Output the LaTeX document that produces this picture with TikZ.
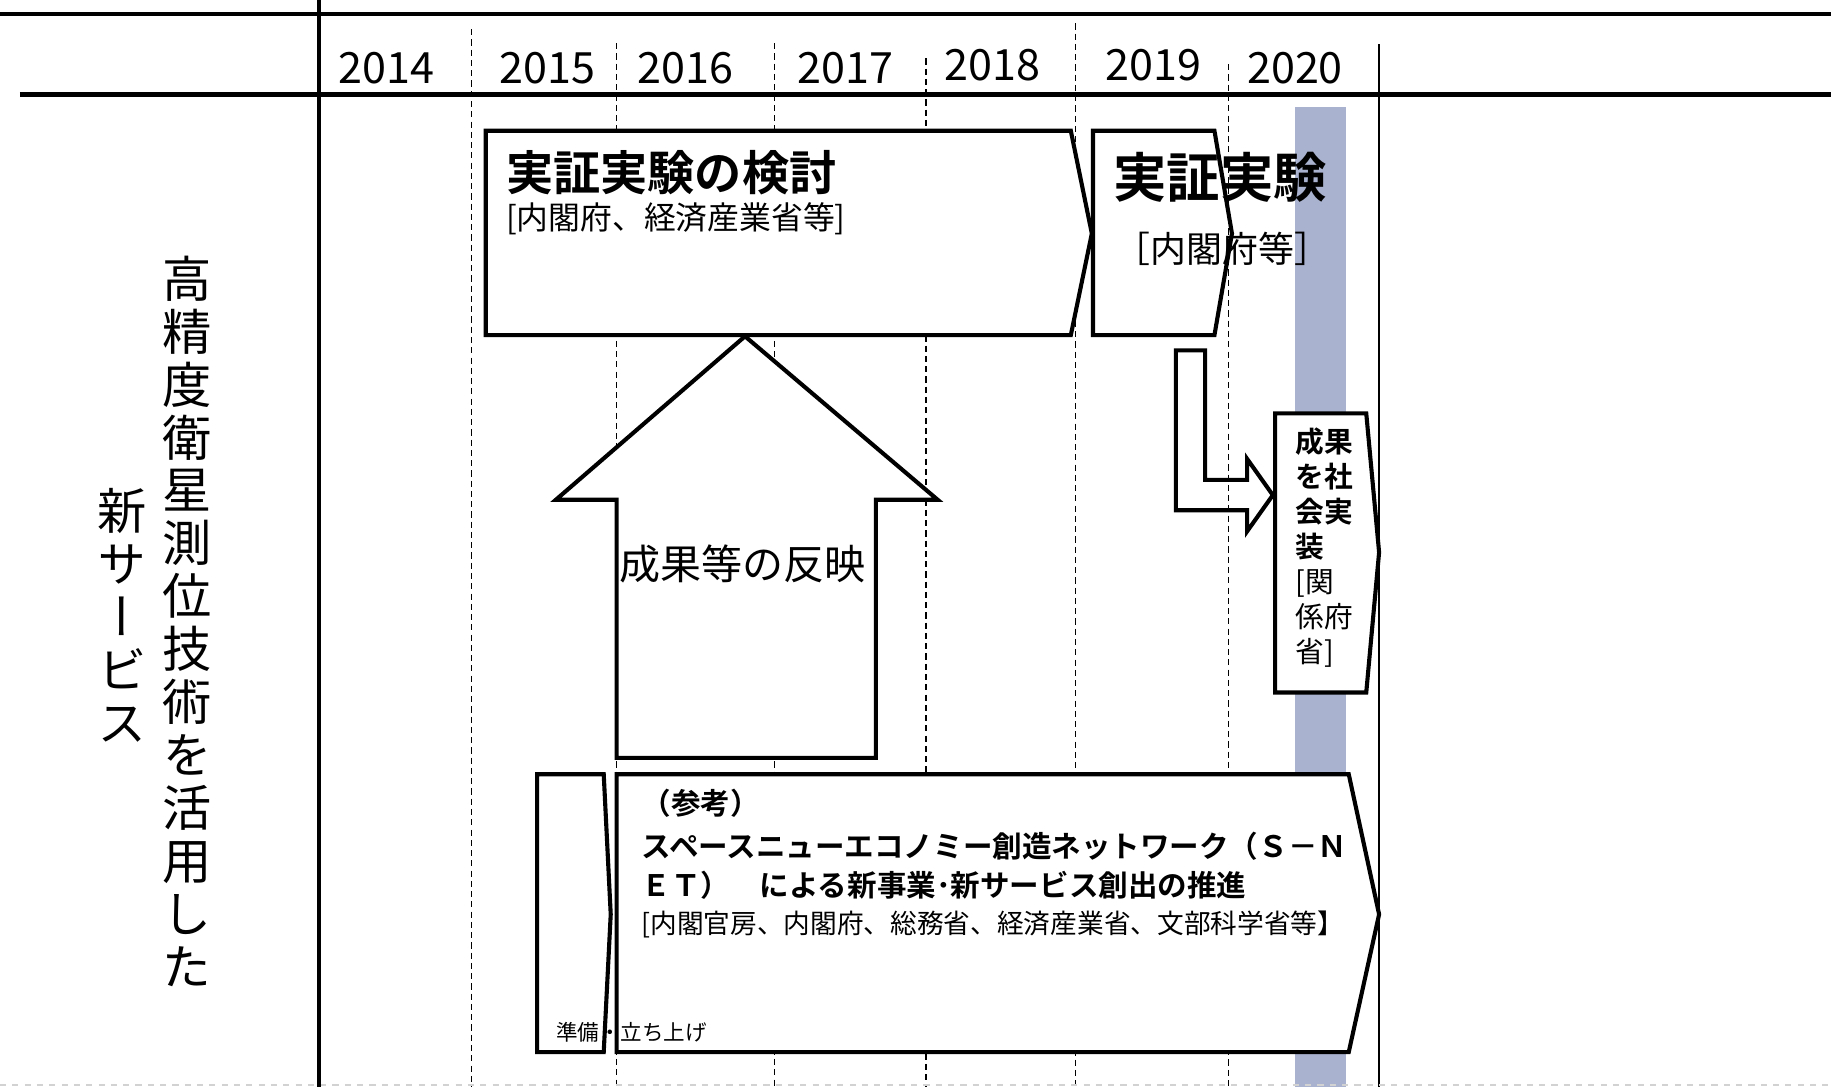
\documentclass[tikz,border=0pt]{standalone}
\usepackage{fontspec}
\setmainfont{Noto Sans CJK JP}[BoldFont={* Bold}]
\newfontfamily\tatefont{Noto Sans CJK JP}[RawFeature=+vert]
\usetikzlibrary{positioning,calc}
\definecolor{bandblue}{HTML}{A9B2CE}

\begin{document}
\begin{tikzpicture}[x=0.2mm, y=-0.2mm,
  hrule/.style={line width=2.4pt},
  yearline/.style={dash pattern=on 3pt off 2pt, line width=0.6pt},
  pbox/.style={line width=2pt, line join=miter, fill=white},
  hollow/.style={line width=2pt, line join=miter},
  yr/.style={font=\fontsize{21}{24}\selectfont, inner sep=0pt},
  ttl/.style={font=\bfseries\fontsize{23}{26}\selectfont, inner sep=0pt, anchor=west},
  sub/.style={font=\fontsize{15.5}{19}\selectfont, inner sep=0pt, anchor=west},
  note/.style={font=\bfseries\fontsize{14.4}{17}\selectfont, inner sep=0pt, anchor=west},
  tate/.style={font=\tatefont\fontsize{24}{25.8}\selectfont, align=center, inner sep=0pt}
]
\useasboundingbox (0,0) rectangle (1568,931);

% band for 2020
\fill[bandblue] (1109,92) rectangle (1153,931);

% year grid
\foreach \x/\top in {404/25, 528/37, 663/37, 793/50, 921/20, 1052/55}
  \draw[yearline] (\x,\top) -- (\x,931);
\draw[line width=0.8pt] (1181,38) -- (1181,931);
\draw[gray!35, dashed, line width=1pt] (0,929) -- (1568,929);

% header
\draw[hrule] (0,12) -- (1568,12);
\draw[hrule] (17,81) -- (1568,81);
\draw[line width=1.8pt] (273,0) -- (273,931);
\foreach \x/\yy/\yr in {331/58/2014, 469/58/2015, 587/58/2016, 724/58/2017, 850/56/2018, 988/56/2019, 1109/58/2020}
  \node[yr] (y\yr) at (\x,\yy) {\yr};

% row title
\node[tate] (row1) at (160,532) {高\\精\\度\\衛\\星\\測\\位\\技\\術\\を\\活\\用\\し\\た};
\node[tate] (row2) at (105,527) {新\\サ\\ー\\ビ\\ス};

% study
\draw[pbox] (416,112) -- (917,112) -- (935,200) -- (917,287) -- (416,287) -- cycle;
\node[ttl] (study) at (433,148) {実証実験の検討};
\node[sub] (studyorg) at (433,187) {[内閣府、経済産業省等]};

% reflection arrow
\draw[pbox] (528,649) -- (750,649) -- (750,428) -- (803,428) -- (638,288)
  -- (476,428) -- (528,428) -- cycle;
\node[font=\fontsize{20}{24}\selectfont, inner sep=0pt] (reflect) at (636,483) {成果等の反映};

% experiment
\draw[hollow] (936,112) -- (1040,112) -- (1055,200) -- (1040,287) -- (936,287) -- cycle;
\node[font=\bfseries\fontsize{26}{30}\selectfont, inner sep=0pt] (exp) at (1045,152) {実証実験};
\node[font=\fontsize{17.5}{20}\selectfont, inner sep=0pt] (exporg) at (1047,213) {［内閣府等］};

% turn arrow
\draw[hollow] (1007,300) -- (1032,300) -- (1032,411) -- (1068,411) -- (1068,393)
  -- (1090,424) -- (1068,455) -- (1068,437) -- (1007,437) -- cycle;

% deployment
\draw[pbox] (1092,354) -- (1170,354) -- (1181,473) -- (1170,593) -- (1092,593) -- cycle;
\node[font=\fontsize{14}{17.1}\selectfont, align=left, inner sep=0pt, anchor=west] (deploy)
  at (1109,469) {\textbf{成果}\\\textbf{を社}\\\textbf{会実}\\\textbf{装}\\{[}関\\係府\\省]};

% S-NET
\draw[pbox] (460,663) -- (517,663) -- (523,783) -- (517,901) -- (460,901) -- cycle;
\draw[pbox] (528,663) -- (1155,663) -- (1181,783) -- (1155,901) -- (528,901) -- cycle;
\node[font=\fontsize{10.5}{12}\selectfont, inner sep=0pt, anchor=west] (prep) at (476,884) {準備・立ち上げ};
\node[note] (ref) at (549,688) {（参考）};
\node[note] (snet1) at (549,725) {スペースニューエコノミー創造ネットワーク（Ｓ－Ｎ};
\node[note] (snet2) at (549,758) {ＥＴ）　による新事業･新サービス創出の推進};
\node[font=\fontsize{13}{16}\selectfont, inner sep=0pt, anchor=west] (snetorg)
  at (549,792) {[内閣官房、内閣府、総務省、経済産業省、文部科学省等】};
\end{tikzpicture}
\end{document}
